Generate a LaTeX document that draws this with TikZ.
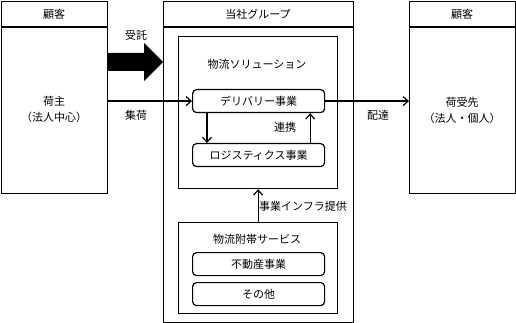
\documentclass[tikz,border=0pt]{standalone}
\usepackage{fontspec}
\setmainfont{Noto Sans CJK JP}
\usetikzlibrary{arrows.meta}
\begin{document}
\begin{tikzpicture}[x=1pt,y=-1pt,line width=1.2pt,
  box/.style={draw,anchor=north west,inner sep=0pt},
  rbox/.style={draw,rounded corners=4pt,anchor=north west,inner sep=0pt,minimum width=132pt,minimum height=23pt},
  lbl/.style={font=\fontsize{11}{16}\selectfont,inner sep=0pt,align=center},
  arr/.style={-{Straight Barb[length=5pt,width=9pt]}}]
\useasboundingbox (0,0) rectangle (516,323);
% outer boxes
\node[box,minimum width=106pt,minimum height=192pt] (L) at (1,1) {};
\node[box,minimum width=190pt,minimum height=321pt] (M) at (163,1) {};
\node[box,minimum width=106pt,minimum height=192pt] (R) at (409,1) {};
\draw ([yshift=-26pt]L.north west) -- ([yshift=-26pt]L.north east);
\draw ([yshift=-26pt]M.north west) -- ([yshift=-26pt]M.north east);
\draw ([yshift=-26pt]R.north west) -- ([yshift=-26pt]R.north east);
\node[lbl] (hL) at (54,14) {顧客};
\node[lbl] (hM) at (258,14) {当社グループ};
\node[lbl] (hR) at (462,14) {顧客};
% inner boxes
\node[box,minimum width=159pt,minimum height=152pt] (Sol) at (178,36) {};
\node[box,minimum width=159pt,minimum height=91pt] (Svc) at (178,222) {};
\node[rbox] (D) at (192,89) {};
\node[lbl] at (D.center) {デリバリー事業};
\node[rbox] (Lg) at (192,143) {};
\node[lbl] at (Lg.center) {ロジスティクス事業};
\node[rbox] (F) at (192,252) {};
\node[lbl] at (F.center) {不動産事業};
\node[rbox] (O) at (192,282) {};
\node[lbl] at (O.center) {その他};
\node[lbl] (tSol) at (257,64) {物流ソリューション};
\node[lbl] (tSvc) at (257,239) {物流附帯サービス};
% customer texts
\node[lbl] (shipper) at (54,109) {荷主\\（法人中心）};
\node[lbl] (recv) at (462,110) {荷受先\\（法人・個人）};
% big arrow
\fill (107,53) -- (144,53) -- (144,43) -- (163,62) -- (144,81) -- (144,71) -- (107,71) -- cycle;
\node[lbl] (t1) at (136,35) {受託};
% connectors
\draw[arr] (L.east |- D.west) -- (D.west);
\draw[arr] (D.east) -- (R.west |- D.east);
\draw[arr] ([xshift=15pt]D.south west) -- ([xshift=15pt]Lg.north west);
\draw[arr] ([xshift=-15pt]Lg.north east) -- ([xshift=-15pt]D.south east);
\draw[arr] (Svc.north) -- (Sol.south);
\node[lbl] (t2) at (136,115) {集荷};
\node[lbl] (t3) at (378,115) {配達};
\node[lbl] (t4) at (285,127) {連携};
\node[lbl] (t5) at (303,206) {事業インフラ提供};
\end{tikzpicture}
\end{document}
